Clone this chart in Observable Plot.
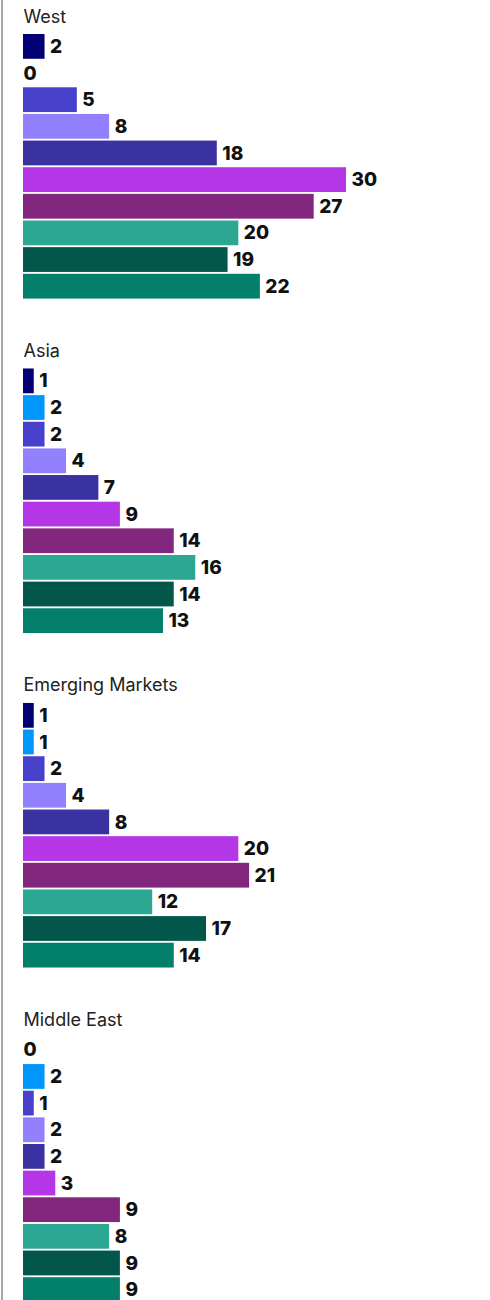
<!DOCTYPE html>
<html>
<head>
<meta charset="utf-8">
<script src="https://cdn.jsdelivr.net/npm/d3@7"></script>
<script src="https://cdn.jsdelivr.net/npm/@observablehq/plot@0.6"></script>
<style>
  html, body { margin: 0; padding: 0; background: #fff; }
  #wrap { position: relative; width: 490px; }
  #leftline { position: absolute; left: 1px; top: 0; width: 1.5px; height: 1310px; background: #a6a6a6; }
  svg { display: block; font-family: Inter, "Noto Sans", sans-serif; }
</style>
</head>
<body>
<div id="wrap"><div id="leftline"></div></div>
<script>
const regions = ["West", "Asia", "Emerging Markets", "Middle East"];
const series = ["S1", "S2", "S3", "S4", "S5", "S6", "S7", "S8", "S9", "S10"];
const seriesColors = ["#020074", "#0096FA", "#4740CB", "#9380FF", "#3A32A0", "#B536E6", "#82267E", "#2BA794", "#02574A", "#017F6A"];
const westValues = [2, 0, 5, 8, 18, 30, 27, 20, 19, 22];
const asiaValues = [1, 2, 2, 4, 7, 9, 14, 16, 14, 13];
const emergingValues = [1, 1, 2, 4, 8, 20, 21, 12, 17, 14];
const middleEastValues = [0, 2, 1, 2, 2, 3, 9, 8, 9, 9];

const valuesByRegion = [westValues, asiaValues, emergingValues, middleEastValues];
const data = [];
regions.forEach((r, i) => {
  series.forEach((s, j) => data.push({region: r, series: s, value: valuesByRegion[i][j]}));
});

const chart = Plot.plot({
  width: 490,
  height: 1302,
  marginTop: 34,
  marginBottom: 0,
  marginLeft: 23,
  marginRight: 144,
  x: {domain: [0, 30], axis: null},
  y: {domain: series, axis: null, paddingInner: 0.07, paddingOuter: 0, round: false},
  fy: {domain: regions, axis: null, paddingInner: 0.209, paddingOuter: 0, round: false},
  color: {domain: series, range: seriesColors},
  marks: [
    Plot.barX(data, {x: "value", y: "series", fy: "region", fill: "series"}),
    Plot.text(data.filter(d => d.value > 0), {
      x: "value", y: "series", fy: "region", text: d => String(d.value),
      textAnchor: "start", dx: 5, fontSize: 19, fontWeight: 800, fill: "#111"
    }),
    Plot.text(data.filter(d => d.value === 0), {
      x: "value", y: "series", fy: "region", text: d => String(d.value),
      textAnchor: "start", dx: 0, fontSize: 19, fontWeight: 800, fill: "#111"
    }),
    Plot.text(regions, {
      fy: d => d, text: d => d, frameAnchor: "top-left", textAnchor: "start",
      lineAnchor: "bottom", dy: -12, fontSize: 18, fill: "#222"
    })
  ]
});
document.getElementById("wrap").appendChild(chart);
</script>
</body>
</html>
